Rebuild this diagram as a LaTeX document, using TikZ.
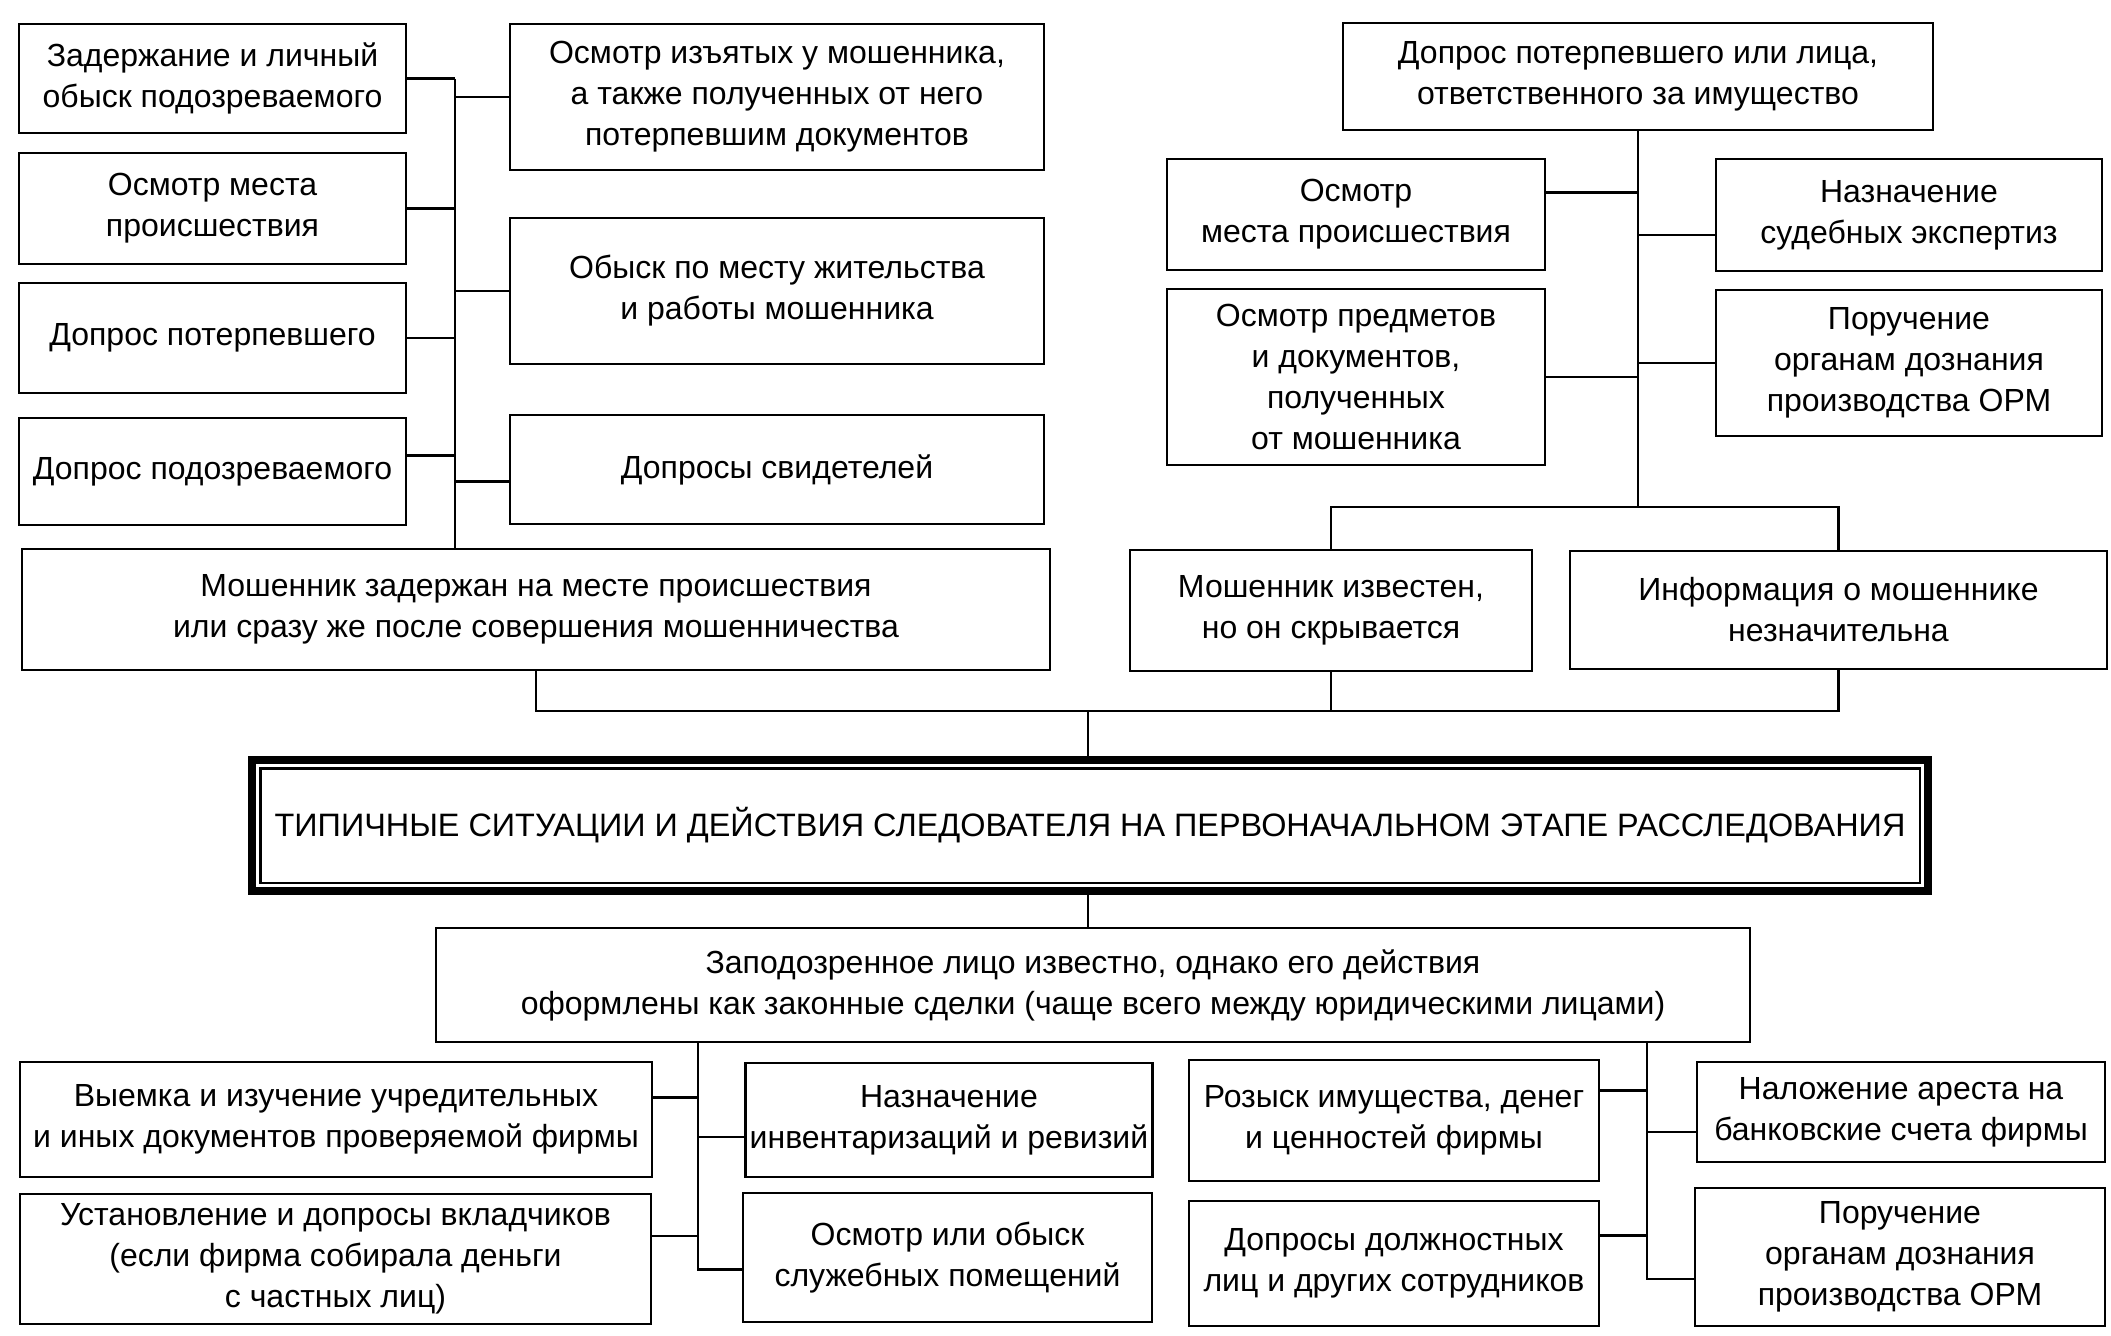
\documentclass[tikz,border=0pt]{standalone}
\usepackage{fontspec}
\setmainfont{Liberation Sans}
\begin{document}
\begin{tikzpicture}[x=0.5pt,y=-0.5pt,
    box/.style={draw, line width=1.4pt, align=center, inner sep=2pt,
        font=\fontsize{16}{20.5}\selectfont},
    link/.style={line width=1.4pt}]
    \useasboundingbox (0,0) rectangle (2111,1335);
    % left upper block
    \node[box, minimum width=193.5pt, minimum height=54.5pt] (L1) at (212.5,78.5) {Задержание и личный\\обыск подозреваемого};
    \node[box, minimum width=193.5pt, minimum height=55.5pt] (L2) at (212.5,208.5) {Осмотр места\\происшествия};
    \node[box, minimum width=193.5pt, minimum height=55pt] (L3) at (212.5,338) {Допрос потерпевшего};
    \node[box, minimum width=193.5pt, minimum height=53.5pt] (L4) at (212.5,471.5) {Допрос подозреваемого};
    \node[box, minimum width=267pt, minimum height=73pt] (R1) at (777,97) {Осмотр изъятых у мошенника,\\а также полученных от него\\потерпевшим документов};
    \node[box, minimum width=267pt, minimum height=73pt] (R2) at (777,291) {Обыск по месту жительства\\и работы мошенника};
    \node[box, minimum width=267pt, minimum height=54.5pt] (R3) at (777,469.5) {Допросы свидетелей};
    \node[box, minimum width=514pt, minimum height=60.5pt] (B1) at (536,609.5) {Мошенник задержан на месте происшествия\\или сразу же после совершения мошенничества};
    % right upper block
    \node[box, minimum width=295pt, minimum height=53.5pt] (T) at (1638,76.5) {Допрос потерпевшего или лица,\\ответственного за имущество};
    \node[box, minimum width=189pt, minimum height=55.5pt] (TL1) at (1356,214.5) {Осмотр\\места происшествия};
    \node[box, minimum width=189pt, minimum height=88pt] (TL2) at (1356,377) {Осмотр предметов\\и документов,\\полученных\\от мошенника};
    \node[box, minimum width=193pt, minimum height=56pt] (TR1) at (1909,215) {Назначение\\судебных экспертиз};
    \node[box, minimum width=193pt, minimum height=73pt] (TR2) at (1909,363) {Поручение\\органам дознания\\производства ОРМ};
    \node[box, minimum width=201pt, minimum height=60.5pt] (B2) at (1331,610.5) {Мошенник известен,\\но он скрывается};
    \node[box, minimum width=268.5pt, minimum height=59pt] (B3) at (1838.5,610) {Информация о мошеннике\\незначительна};
    % title
    \node[draw, line width=3.8pt, minimum width=838pt, minimum height=65.5pt,
        font=\fontsize{16.2}{20}\selectfont] (title) at (1090,825.5)
        {ТИПИЧНЫЕ СИТУАЦИИ И ДЕЙСТВИЯ СЛЕДОВАТЕЛЯ НА ПЕРВОНАЧАЛЬНОМ ЭТАПЕ РАССЛЕДОВАНИЯ};
    \draw[line width=1.3pt] ([shift={(12,12)}]title.north west) rectangle ([shift={(-12,-12)}]title.south east);
    % lower block
    \node[box, minimum width=657pt, minimum height=57pt] (Z) at (1093,985) {Заподозренное лицо известно, однако его действия\\оформлены как законные сделки (чаще всего между юридическими лицами)};
    \node[box, minimum width=316pt, minimum height=57.5pt] (D1) at (336,1119.5) {Выемка и изучение учредительных\\и иных документов проверяемой фирмы};
    \node[box, minimum width=315.5pt, minimum height=65pt] (D2) at (335.5,1259) {Установление и допросы вкладчиков\\(если фирма собирала деньги\\с частных лиц)};
    \node[box, minimum width=203pt, minimum height=57pt] (D3) at (949,1120) {Назначение\\инвентаризаций и ревизий};
    \node[box, minimum width=204.5pt, minimum height=64.5pt] (D4) at (947.5,1257.5) {Осмотр или обыск\\служебных помещений};
    \node[box, minimum width=205pt, minimum height=60.5pt] (D5) at (1394,1120.5) {Розыск имущества, денег\\и ценностей фирмы};
    \node[box, minimum width=205pt, minimum height=62.5pt] (D6) at (1394,1263.5) {Допросы должностных\\лиц и других сотрудников};
    \node[box, minimum width=204pt, minimum height=50pt] (D7) at (1901,1112) {Наложение ареста на\\банковские счета фирмы};
    \node[box, minimum width=205pt, minimum height=69pt] (D8) at (1900,1257) {Поручение\\органам дознания\\производства ОРМ};
    % buses
    \coordinate (lbus) at (455,0);
    \coordinate (tj) at (1638,507);
    \coordinate (mid) at (1088,711);
    \coordinate (zl) at (698,0);
    \coordinate (zr) at (1647,0);
    % left upper connectors
    \draw[link] (L1.east) -- (L1.east -| lbus);
    \draw[link] (L2.east) -- (L2.east -| lbus);
    \draw[link] (L3.east) -- (L3.east -| lbus);
    \draw[link] ([yshift=8pt]L4.east) -- ([yshift=8pt]L4.east -| lbus);
    \draw[link] (R1.west) -- (R1.west -| lbus);
    \draw[link] (R2.west) -- (R2.west -| lbus);
    \draw[link] ([yshift=-6pt]R3.west) -- ([yshift=-6pt]R3.west -| lbus);
    \draw[link] (L1.east -| lbus) -- (B1.north -| lbus);
    % right upper connectors
    \draw[link] (T.south) -- (tj);
    \draw[link] ([yshift=11pt]TL1.east) -- ([yshift=11pt]TL1.east -| tj);
    \draw[link] (TL2.east) -- (TL2.east -| tj);
    \draw[link] ([yshift=-10pt]TR1.west) -- ([yshift=-10pt]TR1.west -| tj);
    \draw[link] (TR2.west) -- (TR2.west -| tj);
    \draw[link] (B2.north) |- (tj) -| (B3.north);
    % to the title
    \draw[link] (B1.south) |- (B3.south |- mid) -- (B3.south);
    \draw[link] (B2.south) -- (B2.south |- mid);
    \draw[link] (mid) -- (mid |- title.north);
    \draw[link] (mid |- title.south) -- (mid |- Z.north);
    % lower connectors
    \draw[link] (Z.south -| zl) |- ([yshift=-6pt]D4.west);
    \draw[link] ([yshift=11pt]D1.east) -- ([yshift=11pt]D1.east -| zl);
    \draw[link] ([yshift=11.5pt]D2.east) -- ([yshift=11.5pt]D2.east -| zl);
    \draw[link] ([yshift=-8.5pt]D3.west) -- ([yshift=-8.5pt]D3.west -| zl);
    \draw[link] (Z.south -| zr) |- ([yshift=-11pt]D8.west);
    \draw[link] ([yshift=15pt]D5.east) -- ([yshift=15pt]D5.east -| zr);
    \draw[link] ([yshift=14pt]D6.east) -- ([yshift=14pt]D6.east -| zr);
    \draw[link] ([yshift=-10pt]D7.west) -- ([yshift=-10pt]D7.west -| zr);
\end{tikzpicture}
\end{document}
